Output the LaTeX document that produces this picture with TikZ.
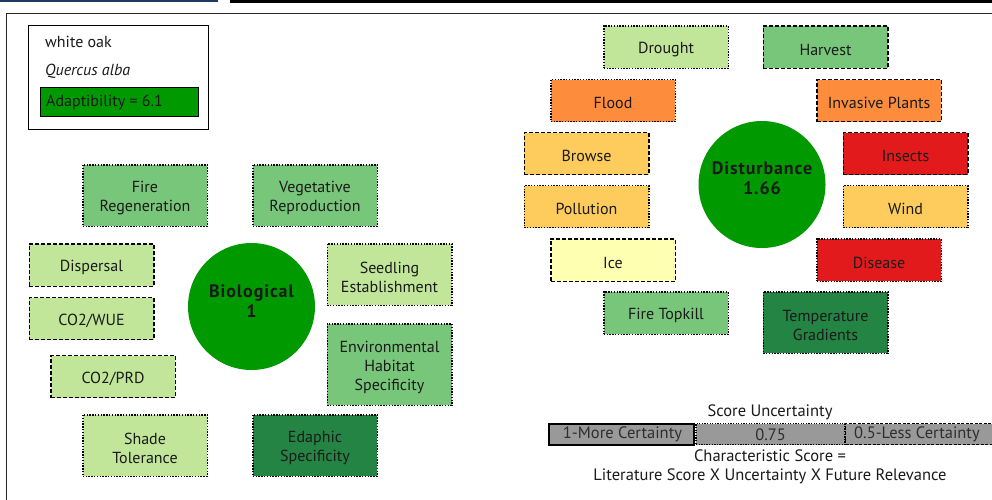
\documentclass[tikz,border=0pt]{standalone}
\usepackage{fontspec}
\setmainfont{PT Sans}
\definecolor{lgreen}{HTML}{C2E699}
\definecolor{mgreen}{HTML}{78C679}
\definecolor{dgreen}{HTML}{238443}
\definecolor{cgreen}{HTML}{009900}
\definecolor{orng}{HTML}{FD8D3C}
\definecolor{yorng}{HTML}{FECC5C}
\definecolor{rred}{HTML}{E31A1C}
\definecolor{pyel}{HTML}{FFFFB2}
\definecolor{navy}{HTML}{1F3864}
\definecolor{txt}{HTML}{1A1A1A}
\definecolor{bargrey}{HTML}{999999}
\definecolor{bartxt}{HTML}{2E2E2E}
\tikzset{
  fbox/.style={draw=black, line width=1.5pt, inner sep=0pt, minimum width=124.5pt},
  dotbox/.style={fbox, dash pattern=on 1.4pt off 1.4pt},
  dashbox/.style={fbox, dash pattern=on 4pt off 2pt},
  boxtext/.style={align=center, text=txt, inner sep=0pt, font=\fontsize{16}{19}\selectfont},
  circ/.style={circle, fill=cgreen, inner sep=0pt, minimum size=127pt},
  circtxt/.style={align=center, text=txt,
    font=\bfseries\fontsize{18}{19.5}\selectfont\addfontfeature{LetterSpace=5}},
  legtxt/.style={anchor=west, text=txt, font=\fontsize{16}{19}\selectfont, inner sep=0pt},
  barbox/.style={fill=bargrey, inner sep=0pt, minimum height=21pt},
  bartext/.style={text=bartxt, inner sep=0pt, font=\fontsize{16.5}{19}\selectfont},
  notetxt/.style={text=txt, font=\fontsize{16.5}{19}\selectfont, inner sep=0pt, align=center}
}
\newcommand\factor[6]{%
  \node[#2, fill=#3, minimum height=#5] (#1) at (#4) {};
  \node[boxtext] (#1-t) at ([yshift=-2.5pt]#1.center) {#6};}
\begin{document}
\begin{tikzpicture}[x=1pt,y=-1pt]
\useasboundingbox (0,0) rectangle (992,499);
\fill[white] (0,0) rectangle (992,499);
% top decorations
\fill[navy] (0,-2) rectangle (218,2);
\draw[line width=1.3pt] (230.5,-10) -- (230.5,2) -- (1000,2);
\draw[line width=0.6pt] (230.5,0.2) -- (1000,0.2);
% main frame
\draw[line width=1.3pt, draw=black!85] (6.5,520) -- (6.5,13.5) -- (1000,13.5);

% legend
\draw[line width=1pt] (28.5,25.5) rectangle (208,129);
\node[legtxt] (name) at (45,42) {white oak};
\node[legtxt] (latin) at (45,71) {\itshape Quercus alba};
\node[draw=black, line width=1pt, fill=cgreen, minimum width=158pt, minimum height=29pt,
  inner sep=0pt] (adapt) at (119.5,102) {};
\node[legtxt] (adapttxt) at (46,102.5) {Adaptibility = 6.1};

% biological
\node[circ] (bio) at (251.5,306.5) {};
\node[circtxt] (biotxt) at (251.5,301) {Biological\\1};
\factor{fireregen}{dotbox}{mgreen}{145,195.5}{61.5pt}{Fire\\Regeneration}
\factor{vegrep}{dotbox}{mgreen}{315,195.5}{61.5pt}{Vegetative\\Reproduction}
\factor{dispersal}{dashbox}{lgreen}{91.5,265}{42.5pt}{Dispersal}
\factor{co2wue}{dashbox}{lgreen}{91.5,318.5}{42pt}{CO2/WUE}
\factor{co2prd}{dashbox}{lgreen}{113,376.5}{42pt}{CO2/PRD}
\factor{seedling}{dotbox}{lgreen}{389.5,274.5}{61.5pt}{Seedling\\Establishment}
\factor{envhab}{dotbox}{mgreen}{389.5,364.5}{81.5pt}{Environmental\\Habitat\\Specificity}
\factor{shade}{dotbox}{lgreen}{145,445.5}{61.5pt}{Shade\\Tolerance}
\factor{edaphic}{dotbox}{dgreen}{315,445.5}{61.5pt}{Edaphic\\Specificity}

% disturbance
\node[circ] (dist) at (762,184.5) {};
\node[circtxt] (disttxt) at (762,178) {Disturbance\\1.66};
\factor{drought}{dotbox}{lgreen}{666,47}{42.5pt}{Drought}
\factor{harvest}{dashbox}{mgreen}{825.5,47}{42.5pt}{Harvest}
\factor{flood}{dotbox}{orng}{613,100.5}{42pt}{Flood}
\factor{invasive}{dashbox}{orng}{879,100.5}{42pt}{Invasive Plants}
\factor{browse}{dashbox}{yorng}{586.5,153.5}{42pt}{Browse}
\factor{insects}{dashbox}{rred}{905.5,153.5}{42pt}{Insects}
\factor{pollution}{dotbox}{yorng}{586.5,206.5}{42pt}{Pollution}
\factor{wind}{dotbox}{yorng}{905.5,206.5}{42pt}{Wind}
\factor{ice}{dashbox}{pyel}{613,260}{42.5pt}{Ice}
\factor{disease}{dotbox}{rred}{879,260}{42.5pt}{Disease}
\factor{firetop}{dotbox}{mgreen}{666,313}{42.5pt}{Fire Topkill}
\factor{tempgrad}{dotbox}{dgreen}{825.5,322.5}{61.5pt}{Temperature\\Gradients}

% score uncertainty legend
\node[notetxt] (scoreu) at (770,412.5) {Score Uncertainty};
\node[barbox, minimum width=154pt] (b3) at (922,434) {};
\draw[line width=1.3pt, dash pattern=on 3pt off 1.5pt] (1000,423.5) -- (845.5,423.5) -- (845.5,444.5) -- (1000,444.5);
\node[barbox, minimum width=149pt, draw=black, line width=1.3pt, dash pattern=on 1.3pt off 1.3pt] (b2) at (770.5,434) {};
\node[barbox, minimum width=145pt, draw=black, line width=2pt] (b1) at (621.5,434) {};
\node[bartext] (b1-t) at (622.5,434.5) {1-More Certainty};
\node[bartext] (b2-t) at (770.5,434.5) {0.75};
\node[bartext] (b3-t) at (917,434.5) {0.5-Less Certainty};
\node[notetxt] (charscore) at (770,456) {Characteristic Score =};
\node[notetxt] (formula) at (770,476) {Literature Score X Uncertainty X Future Relevance};
\end{tikzpicture}
\end{document}
